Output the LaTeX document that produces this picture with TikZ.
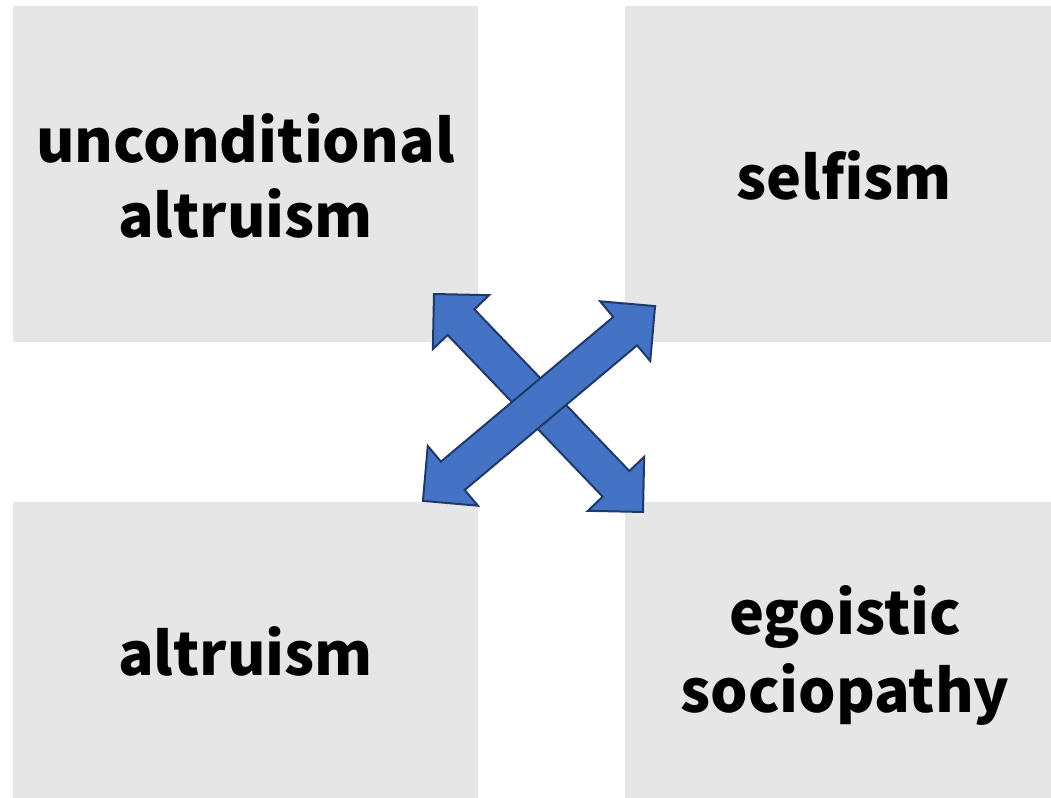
\documentclass[tikz,border=0pt]{standalone}
\usepackage{fontspec}
\setmainfont{Noto Sans CJK KR}
\definecolor{boxgray}{HTML}{E6E6E6}
\definecolor{arrowblue}{HTML}{4472C4}
\definecolor{arrowline}{HTML}{1F3A68}
\begin{document}
\begin{tikzpicture}[x=1pt,y=1pt,
  quad/.style={fill=boxgray,draw=none,inner sep=0pt},
  lbl/.style={anchor=base,inner sep=0pt,font=\bfseries\fontsize{59}{70}\selectfont},
  blockarrow/.style={fill=arrowblue,draw=arrowline,line width=2pt,line join=miter}]
\useasboundingbox (0,0) rectangle (1051,797);
\clip (0,0) rectangle (1051,797);
% quadrant boxes
\node[quad,minimum width=465,minimum height=336] (tl) at (245.5,623) {};
\node[quad,minimum width=440,minimum height=336] (tr) at (845,623) {};
\node[quad,minimum width=465,minimum height=300] (bl) at (245.5,145) {};
\node[quad,minimum width=440,minimum height=300] (br) at (845,145) {};
% labels
\node[lbl] (tl1) at (245.5,634) {unconditional};
\node[lbl] (tl2) at (245.5,559) {altruism};
\node[lbl] (tr1) at (844,597) {selfism};
\node[lbl] (bl1) at (245.5,121) {altruism};
\node[lbl] (br1) at (845,162) {egoistic};
\node[lbl] (br2) at (845,84) {sociopathy};
% double block arrows
\begin{scope}[shift={(538.5,394)},rotate=-46.2]
\draw[blockarrow] (-151,0) -- (-112,39) -- (-112,18.5) -- (112,18.5) -- (112,39) -- (151,0)
  -- (112,-39) -- (112,-18.5) -- (-112,-18.5) -- (-112,-39) -- cycle;
\end{scope}
\begin{scope}[shift={(539,393.5)},rotate=40]
\draw[blockarrow] (-151.5,0) -- (-112.5,39) -- (-112.5,18.5) -- (112.5,18.5) -- (112.5,39) -- (151.5,0)
  -- (112.5,-39) -- (112.5,-18.5) -- (-112.5,-18.5) -- (-112.5,-39) -- cycle;
\end{scope}
\end{tikzpicture}
\end{document}
